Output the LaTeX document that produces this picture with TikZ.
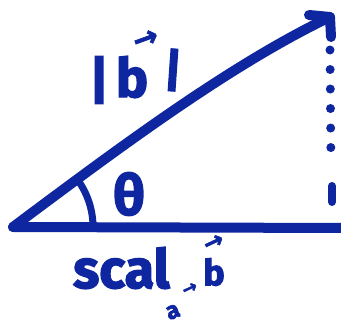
\documentclass[tikz,border=0pt]{standalone}
\usepackage{fontspec}
\newfontfamily\hand{Fira Sans Bold}[FakeBold=2.5]
\newfontfamily\arrfont{DejaVu Sans Bold}[FakeBold=2]
\definecolor{ink}{RGB}{14,38,160}
\tikzset{
  stroke/.style={draw=ink, line width=10pt, line cap=round, line join=round},
  thin stroke/.style={draw=ink, line width=7pt, line cap=round},
  dots/.style={draw=ink, line width=9pt, line cap=round, dash pattern=on 0.01pt off 19.5pt},
  lab/.style={text=ink, inner sep=0pt, font=\hand},
  arr/.style={text=ink, inner sep=0pt, font=\arrfont},
}
\begin{document}
\begin{tikzpicture}[x=1pt,y=1pt]
\useasboundingbox (0,0) rectangle (341,327);
% vertices
\coordinate (A) at (13,100);
\coordinate (B) at (346,99);
\coordinate (T) at (330,310);
\coordinate (H1) at (309,312);
\coordinate (H2) at (331,290);
\coordinate (D1) at (330,277);
\coordinate (D2) at (331,160);
\coordinate (D3) at (332,141);
\coordinate (D4) at (332,125);
% base
\draw[stroke] (A) -- (B);
% hypotenuse (vector b)
\draw[stroke] (A) .. controls (120,180) and (230,262) .. (T);
\draw[stroke] (H1) -- (T) -- (H2);
% dotted vertical
\draw[dots] (D1) -- (D2);
\draw[stroke, line width=8pt] (D3) -- (D4);
% angle arc
\draw[thin stroke] ([shift={(35:80)}]A) arc[start angle=35, end angle=0, radius=80];
% labels
\node[lab, font=\hand\fontsize{52}{52}\selectfont] (lbar) at (99,247) {|};
\node[lab, font=\hand\fontsize{54}{54}\selectfont] (bb) at (132,250) {b};
\node[arr, font=\arrfont\fontsize{30}{30}\selectfont, rotate=20] (barr) at (146,287) {→};
\node[lab, font=\hand\fontsize{46}{46}\selectfont, rotate=-4] (rbar) at (173,257) {|};
\node[lab, font=\hand\fontsize{56}{56}\selectfont] (theta) at (129,133) {θ};
\node[lab, font=\hand\fontsize{54}{54}\selectfont, anchor=base west] (scal) at (73,39) {scal};
\node[lab, font=\hand\fontsize{36}{36}\selectfont] (sb) at (214,55) {b};
\node[arr, font=\arrfont\fontsize{24}{24}\selectfont, rotate=25] (sbarr) at (214,84) {→};
\node[lab, font=\hand\fontsize{24}{24}\selectfont, rotate=20] (sa) at (173,15) {a};
\node[arr, font=\arrfont\fontsize{18}{18}\selectfont, rotate=25] (saarr) at (190,38) {→};
\end{tikzpicture}
\end{document}
